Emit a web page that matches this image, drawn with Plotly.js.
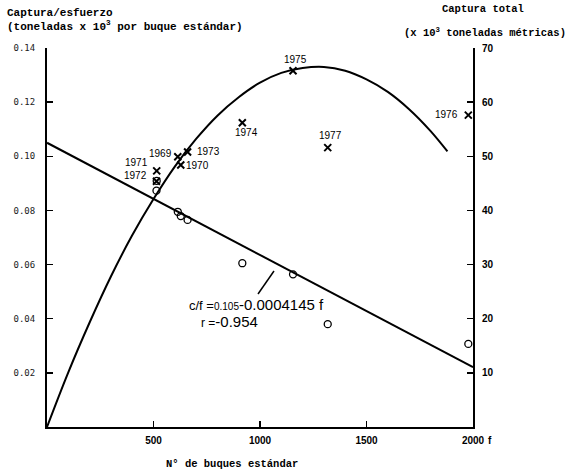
<!DOCTYPE html>
<html><head><meta charset="utf-8">
<script src="https://cdn.plot.ly/plotly-3.0.1.min.js"></script>
<style>html,body{margin:0;padding:0;background:#fff}#chart{width:567px;height:475px}</style>
</head><body><div id="chart"></div>
<script>
// ---- data ----
const years = ['1969','1970','1971','1972','1973','1974','1975','1976','1977'];
const effort = [614, 628, 515, 514, 660, 917, 1155, 1978, 1318];
const cpue = [0.0795, 0.0779, 0.0909, 0.0873, 0.0765, 0.0605, 0.0564, 0.0307, 0.0380];
const totalCatch = [49.9, 48.4, 47.3, 45.4, 50.8, 56.2, 65.8, 57.6, 51.6];
const fitEffort = [0, 2000];
const fitCpue = [0.105, 0.0221];
const curveEffort = [0, 100, 200, 300, 400, 500, 600, 700, 800, 900, 1000, 1100, 1200, 1300, 1400, 1500, 1600, 1700, 1800, 1880];
const curveCatch = [0, 10.1, 19.3, 27.8, 35.4, 42.1, 48.1, 53.2, 57.5, 60.9, 63.6, 65.4, 66.3, 66.5, 65.8, 64.2, 61.9, 58.7, 54.7, 50.9];
const xTickVals = [500, 1000, 1500, 2000];
const xTickText = ['500', '1000', '1500', '2000'];
const yTickVals = [0.02, 0.04, 0.06, 0.08, 0.10, 0.12, 0.14];
const yTickText = ['0.02', '0.04', '0.06', '0.08', '0.10', '0.12', '0.14'];
const y2TickVals = [10, 20, 30, 40, 50, 60, 70];
const y2TickText = ['10', '20', '30', '40', '50', '60', '70'];

// ---- layout geometry (pixels) ----
const W = 567, H = 475;
const PL = 47, PR = 473, PT = 48, PB = 427;
const px = x => (x - PL) / (PR - PL);
const py = y => (PB - y) / (PB - PT);

const labelPos = {
  '1969': {xa: 'right', dx: -4, dy: 3},
  '1970': {xa: 'left', dx: 3, dy: -1},
  '1971': {xa: 'right', dx: -7, dy: 8},
  '1972': {xa: 'right', dx: -7, dy: 6},
  '1973': {xa: 'left', dx: 7, dy: 0},
  '1974': {xa: 'center', dx: 4, dy: -10},
  '1975': {xa: 'center', dx: 2, dy: 11},
  '1976': {xa: 'right', dx: -8, dy: 1},
  '1977': {xa: 'center', dx: 3, dy: 12}
};

const ink = '#000';
const mono = 'Liberation Mono, Courier New, monospace';
const sans = 'Liberation Sans, Arial, sans-serif';

const traces = [
  {x: fitEffort, y: fitCpue, mode: 'lines', line: {color: ink, width: 2}, yaxis: 'y', hoverinfo: 'skip'},
  {x: curveEffort, y: curveCatch, mode: 'lines', line: {color: ink, width: 2, shape: 'spline'}, yaxis: 'y2', hoverinfo: 'skip'},
  {x: effort, y: cpue, mode: 'markers', yaxis: 'y', cliponaxis: false,
   marker: {symbol: 'circle-open', size: 7, color: ink, line: {color: ink, width: 1.3}}},
  {x: effort, y: totalCatch, mode: 'markers', yaxis: 'y2', cliponaxis: false,
   marker: {symbol: 'x-thin-open', size: 7, color: ink, line: {color: ink, width: 2}}}
];

const annotations = years.map((yr, i) => ({
  x: effort[i], y: totalCatch[i], xref: 'x', yref: 'y2', text: yr, showarrow: false,
  xanchor: labelPos[yr].xa, yanchor: 'middle', xshift: labelPos[yr].dx, yshift: labelPos[yr].dy,
  font: {family: sans, size: 10, color: ink}
}));

annotations.push(
  {xref: 'paper', yref: 'paper', x: px(5), y: py(13), xanchor: 'left', yanchor: 'middle', showarrow: false,
   text: 'Captura/esfuerzo', font: {family: mono, size: 11, color: ink, weight: 'bold'}},
  {xref: 'paper', yref: 'paper', x: px(5), y: py(26), xanchor: 'left', yanchor: 'middle', showarrow: false,
   text: '(toneladas x 10<sup>3</sup> por buque estándar)', font: {family: mono, size: 11, color: ink, weight: 'bold'}},
  {xref: 'paper', yref: 'paper', x: px(483), y: py(9), xanchor: 'center', yanchor: 'middle', showarrow: false,
   text: 'Captura total', font: {family: mono, size: 10.5, color: ink, weight: 'bold'}},
  {xref: 'paper', yref: 'paper', x: px(485), y: py(32), xanchor: 'center', yanchor: 'middle', showarrow: false,
   text: '(x 10<sup>3</sup> toneladas métricas)', font: {family: mono, size: 10.5, color: ink, weight: 'bold'}},
  {xref: 'paper', yref: 'paper', x: px(232), y: py(464), xanchor: 'center', yanchor: 'middle', showarrow: false,
   text: 'N° de buques estándar', font: {family: mono, size: 10.5, color: ink, weight: 'bold'}},
  {xref: 'paper', yref: 'paper', x: px(486), y: py(440), xanchor: 'left', yanchor: 'middle', showarrow: false,
   text: 'f', font: {family: sans, size: 10, color: ink, weight: 'bold'}},
  {xref: 'paper', yref: 'paper', x: px(187), y: py(304), xanchor: 'left', yanchor: 'middle', showarrow: false,
   text: '<span style="font-size:13px">c/f =</span><span style="font-size:10px">0.105</span>-0.0004145 f',
   font: {family: sans, size: 15, color: ink}},
  {xref: 'paper', yref: 'paper', x: px(199), y: py(321), xanchor: 'left', yanchor: 'middle', showarrow: false,
   text: '<span style="font-size:12px">r =</span>-0.954',
   font: {family: sans, size: 15, color: ink}}
);

const shapes = [
  {type: 'line', xref: 'paper', yref: 'paper', x0: px(274), y0: py(271), x1: px(258), y1: py(294),
   line: {color: ink, width: 1.5}}
];

const layout = {
  width: W, height: H,
  margin: {l: PL, r: W - PR, t: PT, b: H - PB, pad: 0},
  paper_bgcolor: '#fff', plot_bgcolor: '#fff',
  showlegend: false,
  xaxis: {range: [0, 2000], showline: true, linewidth: 2, linecolor: ink, showgrid: false, zeroline: false,
          ticks: 'inside', ticklen: 6, tickwidth: 1.5, tickcolor: ink,
          tickvals: xTickVals, ticktext: xTickText, ticklabelstandoff: 3,
          tickfont: {family: sans, size: 10, color: ink, weight: 'bold'}},
  yaxis: {range: [0, 0.14], showline: true, linewidth: 2, linecolor: ink, showgrid: false, zeroline: false,
          ticks: 'inside', ticklen: 6, tickwidth: 1.5, tickcolor: ink,
          tickvals: yTickVals, ticktext: yTickText, ticklabelstandoff: 8,
          tickfont: {family: 'DejaVu Sans Mono, monospace', size: 9, color: '#222'}},
  yaxis2: {range: [0, 70], overlaying: 'y', side: 'right', showline: true, linewidth: 2, linecolor: ink,
           showgrid: false, zeroline: false,
           ticks: 'inside', ticklen: 6, tickwidth: 1.5, tickcolor: ink,
           tickvals: y2TickVals, ticktext: y2TickText, ticklabelstandoff: 5,
           tickfont: {family: sans, size: 10, color: ink, weight: 'bold'}},
  annotations: annotations,
  shapes: shapes
};

Plotly.newPlot('chart', traces, layout, {displayModeBar: false, staticPlot: true});
</script>
</body></html>
